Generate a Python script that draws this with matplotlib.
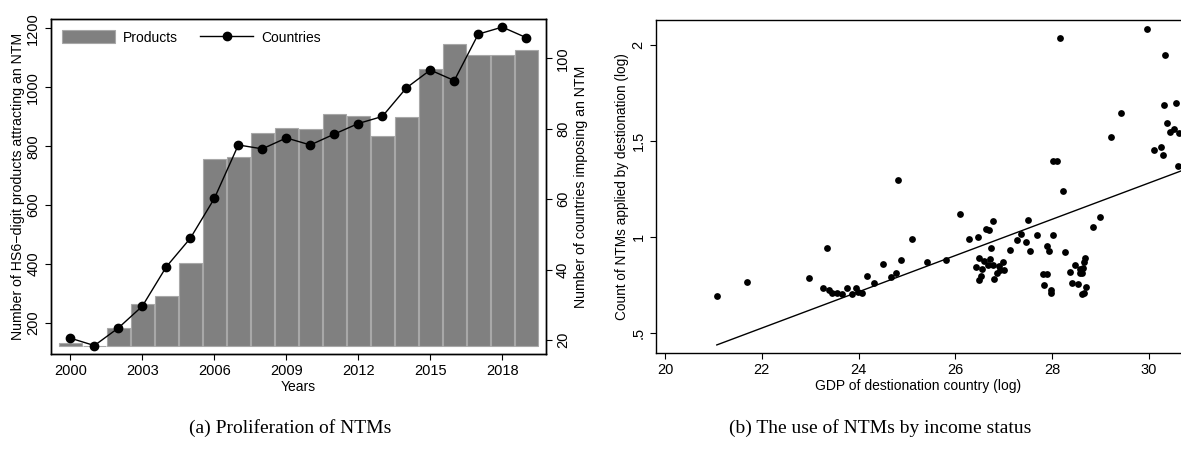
import numpy as np
import matplotlib
matplotlib.use("Agg")
import matplotlib.pyplot as plt
from matplotlib.patches import Patch
from matplotlib.lines import Line2D

plt.rcParams['font.family'] = ['Liberation Sans', 'DejaVu Sans']

# Panel (a): proliferation of NTMs
years = np.arange(2000, 2020)
products = [131, 123, 182, 265, 293, 405, 757, 763, 846, 862,
            859, 909, 902, 835, 899, 1063, 1148, 1110, 1111, 1125]
countries = [20.5, 18.4, 23.4, 29.6, 40.8, 48.9, 60.2, 75.4, 74.3, 77.4,
             75.4, 78.5, 81.5, 83.5, 91.6, 96.7, 93.7, 106.9, 108.9, 105.9]
bar_base = 123
year_ticks = [2000, 2003, 2006, 2009, 2012, 2015, 2018]
prod_ticks = [200, 400, 600, 800, 1000, 1200]
ctry_ticks = [20, 40, 60, 80, 100]

# Panel (b): NTM counts vs GDP (log)
gdp = [21.07, 21.70, 22.98, 23.27, 23.34, 23.38, 23.44, 23.55, 23.65, 23.77,
       23.86, 23.95, 23.99, 24.06, 24.17, 24.32, 24.51, 24.66, 24.77, 24.81,
       24.88, 25.10, 25.41, 25.81, 26.10, 26.27, 26.46, 26.63, 26.69, 26.77,
       26.73, 26.49, 26.60, 26.71, 26.68, 26.42, 26.54, 26.78, 26.89, 26.99,
       26.93, 27.01, 26.85, 26.52, 26.48, 26.80, 27.13, 27.28, 27.36, 27.45,
       27.50, 27.54, 27.69, 27.89, 27.94, 28.02, 28.26, 28.22, 27.80, 27.90,
       27.83, 27.97, 27.98, 28.02, 28.10, 28.16, 28.36, 28.41, 28.47, 28.53,
       28.57, 28.61, 28.63, 28.66, 28.68, 28.61, 28.65, 28.70, 28.57, 28.85,
       28.99, 29.21, 29.43, 29.95, 30.10, 30.24, 30.29, 30.31, 30.33, 30.37,
       30.43, 30.51, 30.55, 30.62, 30.60]
ntm = [0.694, 0.768, 0.786, 0.737, 0.942, 0.722, 0.711, 0.708, 0.704, 0.732,
       0.703, 0.732, 0.715, 0.708, 0.798, 0.762, 0.862, 0.791, 0.810, 1.297,
       0.878, 0.989, 0.869, 0.878, 1.121, 0.989, 0.999, 1.044, 1.039, 1.082,
       0.945, 0.893, 0.876, 0.886, 0.855, 0.843, 0.834, 0.855, 0.850, 0.872,
       0.829, 0.829, 0.815, 0.798, 0.777, 0.781, 0.930, 0.985, 1.015, 0.976,
       1.086, 0.928, 1.008, 0.954, 0.925, 1.012, 0.921, 1.242, 0.808, 0.808,
       0.748, 0.725, 0.708, 1.398, 1.394, 2.037, 0.817, 0.763, 0.852, 0.756,
       0.833, 0.812, 0.838, 0.869, 0.890, 0.704, 0.711, 0.742, 0.810, 1.054,
       1.103, 1.522, 1.647, 2.084, 1.453, 1.467, 1.429, 1.686, 1.949, 1.595,
       1.547, 1.561, 1.698, 1.540, 1.372]
fit_x = [21.07, 31.0]
fit_y = [0.438, 1.376]
gdp_ticks = [20, 22, 24, 26, 28, 30]
ntm_ticks = [0.5, 1, 1.5, 2]
ntm_labels = [".5", "1", "1.5", "2"]

fig = plt.figure(figsize=(11.81, 4.5), dpi=100)

# ---- (a)
ax = fig.add_axes([50.7 / 1181, 96 / 450, 495 / 1181, 335 / 450])
ax.bar(years, np.array(products) - bar_base, bottom=bar_base, width=0.95,
       color="#808080", edgecolor="#a8a8a8", linewidth=0.8, zorder=2)
ax.set_xlim(1999.18, 2019.81)
ax.set_ylim(95, 1231.6)
ax.set_xticks(year_ticks)
ax.set_yticks(prod_ticks)
ax.set_xlabel("Years", fontsize=10, labelpad=1)
ax.set_ylabel("Number of HS6\u2212digit products attracting an NTM", fontsize=10.2, labelpad=1)

ax2 = ax.twinx()
ax2.plot(years, countries, color="black", lw=1, marker="o", markersize=6, zorder=3)
ax2.set_ylim(16, 111.2)
ax2.set_yticks(ctry_ticks)
ax2.set_ylabel("Number of countries imposing an NTM", fontsize=10.2, labelpad=3)

for a in (ax, ax2):
    a.tick_params(direction="out", length=4, width=0.8, labelsize=10.5)
    for s in a.spines.values():
        s.set_linewidth(1.0)
ax.tick_params(axis="y", labelrotation=90)
ax2.tick_params(axis="y", labelrotation=90)
for l in ax.get_yticklabels() + ax2.get_yticklabels():
    l.set_va("center")

handles = [Patch(facecolor="#808080", edgecolor="#a8a8a8", linewidth=0.8),
           Line2D([], [], color="black", lw=1, marker="o", markersize=6)]
ax2.legend(handles, ["Products", "Countries"], loc="upper left", ncol=2,
           frameon=False, fontsize=10, handlelength=3.8, handleheight=1.1,
           columnspacing=1.6, handletextpad=0.6, borderaxespad=0.4,
           bbox_to_anchor=(0.0, 1.0))

# ---- (b)
bx = fig.add_axes([656 / 1181, 97 / 450, 525 / 1181, 333 / 450])
bx.scatter(gdp, ntm, s=24, color="black", linewidths=0, zorder=3)
bx.plot(fit_x, fit_y, color="black", lw=1, zorder=2)
bx.set_xlim(19.814, 30.66)
bx.set_ylim(0.396, 2.13)
bx.set_xticks(gdp_ticks)
bx.set_yticks(ntm_ticks)
bx.set_yticklabels(ntm_labels)
bx.spines["right"].set_visible(False)
bx.tick_params(direction="out", length=4, width=0.8, labelsize=10.5)
bx.tick_params(axis="y", labelrotation=90)
for l in bx.get_yticklabels():
    l.set_va("center")
for s in bx.spines.values():
    s.set_linewidth(1.0)
bx.set_xlabel("GDP of destionation country (log)", fontsize=10, labelpad=1)
bx.set_ylabel("Count of NTMs applied by destionation (log)", fontsize=9.8, labelpad=2)

# captions
fig.text(290 / 1181, 1 - 428 / 450, "(a) Proliferation of NTMs", ha="center", va="center",
         fontsize=14, family=["Liberation Serif", "DejaVu Serif"])
fig.text(880 / 1181, 1 - 428 / 450, "(b) The use of NTMs by income status", ha="center",
         va="center", fontsize=14, family=["Liberation Serif", "DejaVu Serif"])

fig.savefig("out.png", dpi=100)
